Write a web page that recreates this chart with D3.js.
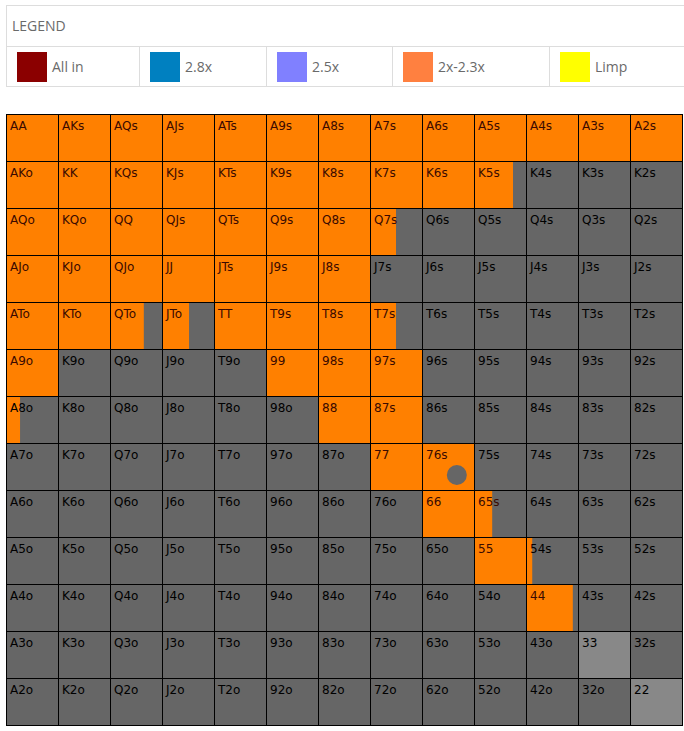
<!DOCTYPE html>
<html><head><meta charset="utf-8">
<script src="https://cdn.jsdelivr.net/npm/d3@7"></script>
<style>body{margin:0;background:#fff;} svg{display:block;}</style>
</head><body>
<svg id="chart" width="684" height="731"></svg>
<script>
const ranks = ["A","K","Q","J","T","9","8","7","6","5","4","3","2"];
const legendLabels = ["All in","2.8x","2.5x","2x-2.3x","Limp"];
const legendColors = ["#8b0000","#0080c0","#8080ff","#ff8040","#ffff00"];
// fraction of each hand raised 2x-2.3x (row = first rank, col = second rank)
const raiseFreq = [
  [1,1,1,1,1,1,1,1,1,1,1,1,1],
  [1,1,1,1,1,1,1,1,1,0.75,0,0,0],
  [1,1,1,1,1,1,1,0.5,0,0,0,0,0],
  [1,1,1,1,1,1,1,0,0,0,0,0,0],
  [1,1,0.65,0.52,1,1,1,0.5,0,0,0,0,0],
  [1,0,0,0,0,1,1,1,0,0,0,0,0],
  [0.27,0,0,0,0,0,1,1,0,0,0,0,0],
  [0,0,0,0,0,0,0,1,1,0,0,0,0],
  [0,0,0,0,0,0,0,0,1,0.35,0,0,0],
  [0,0,0,0,0,0,0,0,0,1,0.12,0,0],
  [0,0,0,0,0,0,0,0,0,0,0.9,0,0],
  [0,0,0,0,0,0,0,0,0,0,0,0,0],
  [0,0,0,0,0,0,0,0,0,0,0,0,0]
];
const lightHands = ["33","22"];
const markerHand = "76s";

const svg = d3.select("#chart");

// ---- Legend ----
const lg = svg.append("g");
const legX = [6,139,266,392,549,684];
lg.append("rect").attr("x",6.5).attr("y",5.5).attr("width",690).attr("height",81)
  .attr("fill","#fff").attr("stroke","#ddd");
lg.append("line").attr("x1",6).attr("x2",684).attr("y1",46.5).attr("y2",46.5).attr("stroke","#ddd");
lg.append("text").attr("x",12).attr("y",31).text("LEGEND")
  .attr("font-family","Open Sans").attr("font-size",14).attr("fill","#6a6a6a");
legendLabels.forEach((l,i)=>{
  if(i>0) lg.append("line").attr("x1",legX[i]+0.5).attr("x2",legX[i]+0.5).attr("y1",46).attr("y2",87).attr("stroke","#ddd");
  lg.append("rect").attr("x",legX[i]+11).attr("y",52).attr("width",30).attr("height",30).attr("fill",legendColors[i]);
  lg.append("text").attr("x",legX[i]+46).attr("y",72).text(l)
    .attr("font-family","Open Sans").attr("font-size",14).attr("fill","#6a6a6a");
});

// ---- Grid ----
const x = d3.scaleBand().domain(d3.range(13)).range([6,682]);
const y = d3.scaleBand().domain(d3.range(13)).range([114,725]);
const cells = [];
raiseFreq.forEach((row,r)=>row.forEach((f,c)=>{
  let name;
  if(r===c) name = ranks[r]+ranks[c];
  else if(c>r) name = ranks[r]+ranks[c]+"s";
  else name = ranks[c]+ranks[r]+"o";
  cells.push({r,c,f,name});
}));
const g = svg.append("g");
const cg = g.selectAll("g.cell").data(cells).join("g").attr("class","cell");
cg.append("rect").attr("x",d=>x(d.c)).attr("y",d=>y(d.r))
  .attr("width",x.bandwidth()).attr("height",y.bandwidth())
  .attr("fill",d=>lightHands.includes(d.name)?"#888888":"#666666");
cg.append("rect").attr("x",d=>x(d.c)).attr("y",d=>y(d.r))
  .attr("width",d=>x.bandwidth()*d.f).attr("height",y.bandwidth())
  .attr("fill","#ff8000");
cg.filter(d=>d.name===markerHand).append("circle")
  .attr("cx",d=>x(d.c)+x.bandwidth()*0.67).attr("cy",d=>y(d.r)+y.bandwidth()*0.68)
  .attr("r",10).attr("fill","#666666");
cg.append("rect").attr("x",d=>x(d.c)+0.5).attr("y",d=>y(d.r)+0.5)
  .attr("width",x.bandwidth()).attr("height",y.bandwidth())
  .attr("fill","none").attr("stroke","#000").attr("stroke-width",1);
cg.append("text").attr("x",d=>x(d.c)+4).attr("y",d=>y(d.r)+16).text(d=>d.name)
  .attr("font-family","DejaVu Sans").attr("font-size",12)
  .attr("fill",d=>d.f>0.3?"#3a0a00":"#000");
</script>
</body></html>
